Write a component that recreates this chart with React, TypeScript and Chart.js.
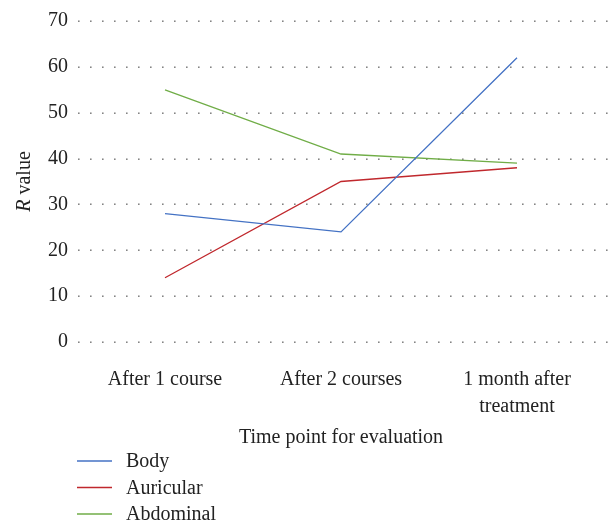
import React, { useEffect, useRef } from "react";
import { Chart, registerables } from "chart.js";

Chart.register(...registerables);

const categories: (string | string[])[] = ["After 1 course", "After 2 courses", ["1 month after", "treatment"]];
const bodyValues = [28, 24, 62];
const auricularValues = [14, 35, 38];
const abdominalValues = [55, 41, 39];
const seriesNames = ["Body", "Auricular", "Abdominal"];
const seriesColors = ["#4472C4", "#C0282D", "#70AD47"];
const yTicks = [0, 10, 20, 30, 40, 50, 60, 70];
const xTitle = "Time point for evaluation";

const FONT = "'Liberation Serif', 'Times New Roman', serif";

const customPlugin = {
  id: "custom",
  beforeDatasetsDraw(chart: any) {
    const ctx = chart.ctx;
    const ys = chart.scales.y;
    ctx.save();
    ctx.fillStyle = "#777";
    yTicks.forEach((v) => {
      const y = Math.round(ys.getPixelForValue(v));
      for (let x = 78; x <= 607; x += 12) {
        ctx.fillRect(x, y - 0.5, 1.6, 1.4);
      }
    });
    ctx.restore();
  },
  afterDraw(chart: any) {
    const ctx = chart.ctx;
    const area = chart.chartArea;
    ctx.save();
    ctx.translate(25, (area.top + area.bottom) / 2);
    ctx.rotate(-Math.PI / 2);
    ctx.fillStyle = "#222";
    ctx.textBaseline = "middle";
    ctx.font = `italic 20px ${FONT}`;
    const rW = ctx.measureText("R").width;
    ctx.font = `20px ${FONT}`;
    const restW = ctx.measureText(" value").width;
    const total = rW + restW;
    ctx.textAlign = "left";
    ctx.font = `italic 20px ${FONT}`;
    ctx.fillText("R", -total / 2, 0);
    ctx.font = `20px ${FONT}`;
    ctx.fillText(" value", -total / 2 + rW, 0);
    ctx.restore();

    ctx.save();
    ctx.font = `20px ${FONT}`;
    ctx.textBaseline = "middle";
    ctx.textAlign = "left";
    chart.data.datasets.forEach((ds: any, i: number) => {
      const y = 461 + i * 26.5;
      ctx.strokeStyle = ds.borderColor;
      ctx.lineWidth = 1.3;
      ctx.beginPath();
      ctx.moveTo(77, y);
      ctx.lineTo(112, y);
      ctx.stroke();
      ctx.fillStyle = "#222";
      ctx.fillText(ds.label, 126, y + 1);
    });
    ctx.restore();
  },
};

export default function App() {
  const ref = useRef<HTMLCanvasElement>(null);
  useEffect(() => {
    if (!ref.current) return;
    const seriesValues = [bodyValues, auricularValues, abdominalValues];
    const chart = new Chart(ref.current, {
      type: "line",
      data: {
        labels: categories as any,
        datasets: seriesValues.map((vals, i) => ({
          label: seriesNames[i],
          data: vals,
          borderColor: seriesColors[i],
          backgroundColor: seriesColors[i],
          borderWidth: 1.3,
          pointRadius: 0,
          tension: 0,
          fill: false,
        })),
      },
      options: {
        animation: false,
        responsive: false,
        maintainAspectRatio: false,
        layout: { padding: { top: 21, right: 8, left: 0, bottom: 72 } },
        plugins: {
          legend: { display: false },
          tooltip: { enabled: false },
        },
        scales: {
          x: {
            offset: true,
            grid: { display: false, drawTicks: false },
            border: { display: false },
            ticks: {
              color: "#222",
              font: { family: FONT, size: 20, lineHeight: 1.35 },
              padding: 24,
              maxRotation: 0,
              autoSkip: false,
            },
            title: {
              display: true,
              text: xTitle,
              color: "#222",
              font: { family: FONT, size: 20 },
              padding: { top: 4, bottom: 1 },
            },
            afterFit: (s: any) => {
              s.height = 109;
            },
          },
          y: {
            min: 0,
            max: 70,
            ticks: {
              stepSize: 10,
              color: "#222",
              font: { family: FONT, size: 20 },
              padding: 9,
            },
            grid: { display: false, drawTicks: false },
            border: { display: false },
            afterFit: (s: any) => {
              s.width = 77;
            },
          },
        },
      },
      plugins: [customPlugin],
    });
    return () => chart.destroy();
  }, []);
  return (
    <div style={{ position: "absolute", left: 0, top: 0, width: 613, height: 523, background: "#fff" }}>
      <canvas ref={ref} width={613} height={523} style={{ width: 613, height: 523 }} />
    </div>
  );
}
